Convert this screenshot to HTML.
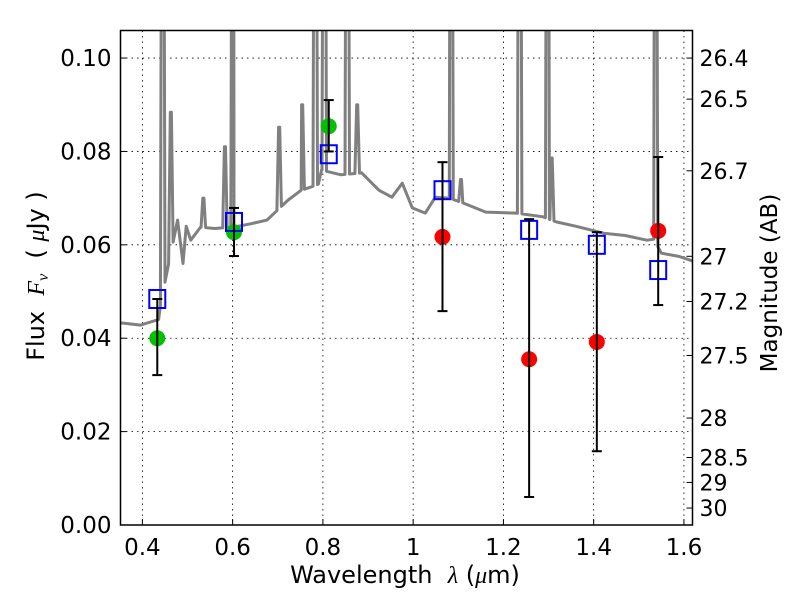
<!DOCTYPE html>
<html><head><meta charset="utf-8"><style>
body{margin:0;background:#fff;}
svg{display:block;font-family:"DejaVu Sans","Liberation Sans",sans-serif;}
</style></head><body>
<svg id="chart" width="800" height="600">
<g id="grid"></g>
<g id="spec"></g>
<g id="marks"></g>
<rect x="120.5" y="30.5" width="572" height="494.5" fill="none" stroke="#000" stroke-width="1.5"/>
<g id="axes"></g>
<text x="405" y="583" font-size="24" text-anchor="middle">Wavelength&#160;&#160;<tspan font-style="italic" font-family="Liberation Serif, serif">λ</tspan> (<tspan font-style="italic" font-family="Liberation Serif, serif">μ</tspan>m)</text>
<text transform="translate(44,276) rotate(-90)" font-size="24" text-anchor="middle">Flux&#160;&#160;<tspan font-style="italic" font-family="Liberation Serif, serif">F<tspan font-size="16" dy="4">ν</tspan></tspan><tspan dy="-4">&#160;&#160;(&#160;</tspan><tspan font-style="italic" font-family="Liberation Serif, serif">μ</tspan>Jy )</text>
<text transform="translate(777,283) rotate(-90)" font-size="23" text-anchor="middle">Magnitude (AB)</text>
</svg>
<script>
const contLam=[0.351,0.396,0.436,0.440,0.454,0.478,0.490,0.497,0.507,0.529,0.560,0.603,0.640,0.676,0.723,0.752,0.774,0.790,0.797,0.840,0.886,0.924,0.953,0.976,0.998,1.027,1.049,1.080,1.110,1.161,1.228,1.288,1.317,1.360,1.422,1.470,1.518,1.533,1.550,1.590,1.626];
const contFlux=[0.0433,0.0428,0.0440,0.0470,0.0540,0.0653,0.0560,0.0640,0.0610,0.0638,0.0635,0.0638,0.0645,0.0653,0.0696,0.0717,0.0724,0.0730,0.0760,0.0750,0.0754,0.0717,0.0702,0.0732,0.0679,0.0668,0.0702,0.0700,0.0690,0.0670,0.0668,0.0660,0.0649,0.0640,0.0625,0.0620,0.0610,0.0612,0.0582,0.0575,0.0563];
const lineLam=[0.445,0.463,0.535,0.583,0.601,0.703,0.754,0.783,0.803,0.854,0.876,1.084,1.106,1.236,1.298,1.307,1.537];
const lineFlux=[0.2,0.0884,0.070,0.081,0.2,0.0852,0.090,0.2,0.2,0.2,0.090,0.2,0.074,0.2,0.2,0.0786,0.2];
const modelLam=[0.433,0.603,0.813,1.065,1.257,1.407,1.543];
const modelFlux=[0.0484,0.0649,0.0794,0.0717,0.0632,0.0600,0.0546];
const greenLam=[0.433,0.603,0.813];
const greenFlux=[0.0400,0.0627,0.0854];
const greenLo=[0.0321,0.0576,0.0800];
const greenHi=[0.0484,0.0679,0.0910];
const redLam=[1.065,1.257,1.407,1.543];
const redFlux=[0.0617,0.0355,0.0392,0.0630];
const redLo=[0.0458,0.0060,0.0158,0.0471];
const redHi=[0.0777,0.0655,0.0627,0.0788];
const xTicks=[0.4,0.6,0.8,1.0,1.2,1.4,1.6];
const xTickLabels=["0.4","0.6","0.8","1","1.2","1.4","1.6"];
const yTicks=[0,0.02,0.04,0.06,0.08,0.10];
const yTickLabels=["0.00","0.02","0.04","0.06","0.08","0.10"];
const magTicks=[26.4,26.5,26.7,27,27.2,27.5,28,28.5,29,30];
const magTickLabels=["26.4","26.5","26.7","27","27.2","27.5","28","28.5","29","30"];

const X0=120.5,X1=692.5,Y0=525,Y1=30.5,XMIN=0.3515,XMAX=1.619,YMIN=0,YMAX=0.1059;
const NS='http://www.w3.org/2000/svg';
function xs(v){return X0+(v-XMIN)/(XMAX-XMIN)*(X1-X0);}
function ys(v){return Y0-(v-YMIN)/(YMAX-YMIN)*(Y0-Y1);}
function mk(tag,attrs,parent){const e=document.createElementNS(NS,tag);for(const k in attrs)e.setAttribute(k,attrs[k]);parent.appendChild(e);return e;}
const grid=document.getElementById('grid'),axes=document.getElementById('axes'),spec=document.getElementById('spec'),marks=document.getElementById('marks');

xTicks.forEach((t,i)=>{const x=xs(t);
 let g=mk('line',{x1:x,x2:x,y1:Y1,y2:Y0,stroke:'#000','stroke-width':0.8,'stroke-dasharray':'1.5,4'},grid);
 
 let tk=mk('line',{x1:x,x2:x,y1:Y0,y2:Y0-6,stroke:'#000'},axes);
 
 let tx=mk('text',{x:x,y:Y0+30,'font-size':23,'text-anchor':'middle'},axes);tx.textContent=xTickLabels[i];
 });
yTicks.forEach((t,i)=>{const y=ys(t);
 if(t>0){let g=mk('line',{x1:X0,x2:X1,y1:y,y2:y,stroke:'#000','stroke-width':0.8,'stroke-dasharray':'1.5,4'},grid);
 }
 let tk=mk('line',{x1:X0,x2:X0+6,y1:y,y2:y,stroke:'#000'},axes);
 
 let tx=mk('text',{x:X0-9,y:y+8,'font-size':23,'text-anchor':'end'},axes);tx.textContent=yTickLabels[i];
 });
magTicks.forEach((m,i)=>{const f=Math.pow(10,(23.9-m)/2.5);const y=ys(f);
 let tk=mk('line',{x1:X1-6,x2:X1,y1:y,y2:y,stroke:'#000'},axes);
 
 let tx=mk('text',{x:X1+7,y:y+8,'font-size':22},axes);tx.textContent=magTickLabels[i];
 });

const pts=contLam.map((l,i)=>[l,contFlux[i]]);
function contAt(l){for(let i=0;i<contLam.length-1;i++){if(l>=contLam[i]&&l<=contLam[i+1]){const t=(l-contLam[i])/(contLam[i+1]-contLam[i]);return contFlux[i]+t*(contFlux[i+1]-contFlux[i]);}}return contFlux[contFlux.length-1];}
lineLam.forEach((l,i)=>{const w=0.005;pts.push([l-w,contAt(l-w)]);pts.push([l-0.0012,lineFlux[i]]);pts.push([l+0.0012,lineFlux[i]]);pts.push([l+w,contAt(l+w)]);});
pts.sort((a,b)=>a[0]-b[0]);
const cp=mk('clipPath',{id:'clip'},spec);mk('rect',{x:X0,y:Y1,width:X1-X0,height:Y0-Y1},cp);
const sp=mk('polyline',{points:pts.map(p=>xs(p[0]).toFixed(1)+','+ys(p[1]).toFixed(1)).join(' '),fill:'none',stroke:'#808080','stroke-width':3,'stroke-linejoin':'round','clip-path':'url(#clip)'},spec);


function errbar(l,lo,hi){const x=xs(l);
 let e=mk('g',{},marks);
 mk('line',{x1:x,x2:x,y1:ys(lo),y2:ys(hi),stroke:'#000','stroke-width':2},e);
 mk('line',{x1:x-5,x2:x+5,y1:ys(lo),y2:ys(lo),stroke:'#000','stroke-width':2},e);
 mk('line',{x1:x-5,x2:x+5,y1:ys(hi),y2:ys(hi),stroke:'#000','stroke-width':2},e);}
greenLam.forEach((l,i)=>{let c=mk('circle',{cx:xs(l),cy:ys(greenFlux[i]),r:8,fill:'#00c000'},marks);
 });
redLam.forEach((l,i)=>{let c=mk('circle',{cx:xs(l),cy:ys(redFlux[i]),r:8,fill:'#ff0000'},marks);
 });
modelLam.forEach((l,i)=>{let r=mk('rect',{x:xs(l)-8,y:ys(modelFlux[i])-9,width:16,height:18,fill:'none',stroke:'#0000ff','stroke-width':2},marks);
 });
greenLam.forEach((l,i)=>errbar(l,greenLo[i],greenHi[i]));
redLam.forEach((l,i)=>errbar(l,redLo[i],redHi[i]));
</script>
</body></html>
